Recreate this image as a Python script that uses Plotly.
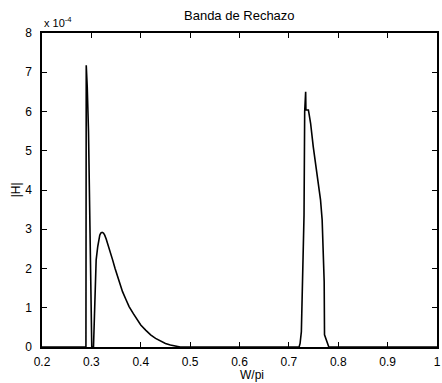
import plotly.graph_objects as go

# Normalised frequency (W/pi) and stop-band magnitude |H| in units of 1e-4
w_norm = [0.200, 0.2890, 0.2896, 0.2916, 0.2942, 0.2956, 0.2976, 0.2996, 0.3008,
          0.3043, 0.3056, 0.3076, 0.3097, 0.3129, 0.3150, 0.3170, 0.3190, 0.3217,
          0.3245, 0.3270, 0.3300, 0.3330, 0.3380, 0.3430, 0.3480, 0.3530, 0.3580,
          0.3631, 0.3700, 0.3764, 0.3850, 0.3931, 0.4000, 0.4099, 0.4200, 0.4300,
          0.4400, 0.4500, 0.4600, 0.4700, 0.4800,
          0.7207, 0.7227, 0.7253, 0.7273, 0.7287, 0.7307, 0.7320, 0.7340,
          0.7345, 0.7395, 0.7407, 0.7440, 0.7494, 0.7574, 0.7641, 0.7674, 0.7708,
          0.7715, 0.7722, 0.7775, 0.7809, 1.000]
h_mag_e4 = [0.00, 0.00, 7.18, 6.63, 5.49, 4.20, 2.98, 1.71, 0.00,
            0.00, 0.69, 1.54, 2.22, 2.56, 2.74, 2.85, 2.90, 2.92,
            2.90, 2.85, 2.75, 2.64, 2.44, 2.22, 2.00, 1.79, 1.60,
            1.41, 1.21, 1.03, 0.85, 0.69, 0.56, 0.43, 0.31, 0.22,
            0.15, 0.09, 0.05, 0.03, 0.00,
            0.00, 0.09, 0.39, 1.25, 2.09, 3.36, 6.00, 6.50,
            6.04, 6.04, 5.95, 5.70, 5.10, 4.42, 3.75, 3.24, 2.26,
            1.66, 0.31, 0.10, 0.00, 0.00]

x_ticks = [0.2, 0.3, 0.4, 0.5, 0.6, 0.7, 0.8, 0.9, 1.0]
x_tick_labels = ["0.2", "0.3", "0.4", "0.5", "0.6", "0.7", "0.8", "0.9", "1"]
y_ticks = [0, 1, 2, 3, 4, 5, 6, 7, 8]
y_tick_labels = ["0", "1", "2", "3", "4", "5", "6", "7", "8"]

FONT = "Liberation Sans, Arial, sans-serif"

fig = go.Figure()
fig.add_trace(go.Scatter(x=w_norm, y=h_mag_e4, mode="lines",
                         line=dict(color="black", width=1.6),
                         showlegend=False, hoverinfo="skip"))

axis_common = dict(showline=True, linecolor="black", linewidth=1.5,
                   mirror="allticks", ticks="inside", ticklen=5,
                   tickcolor="black", tickwidth=1, showgrid=False,
                   zeroline=False, ticklabeloverflow="allow",
                   tickfont=dict(family=FONT, size=12, color="black"))

fig.update_xaxes(range=[0.2, 1.0], tickvals=x_ticks, ticktext=x_tick_labels,
                 ticklabelstandoff=3, **axis_common)
fig.update_yaxes(range=[0, 8], tickvals=y_ticks, ticktext=y_tick_labels,
                 ticklabelstandoff=6, **axis_common)

fig.update_layout(
    width=442, height=383,
    margin=dict(l=42, r=1, t=33, b=36),
    paper_bgcolor="white", plot_bgcolor="white",
    annotations=[
        dict(text="Banda de Rechazo", xref="paper", yref="paper", x=0.5, y=1.057,
             showarrow=False, font=dict(family=FONT, size=13, color="black"),
             xanchor="center", yanchor="middle"),
        dict(text="x 10<sup>-4</sup>", xref="paper", yref="paper", x=0.0, y=1.035,
             showarrow=False, font=dict(family=FONT, size=11, color="black"),
             xanchor="left", yanchor="middle"),
        dict(text="W/pi", xref="paper", yref="paper", x=0.531, y=-0.089,
             showarrow=False, font=dict(family=FONT, size=12, color="black"),
             xanchor="center", yanchor="middle"),
        dict(text="|H|", xref="paper", yref="paper", x=-0.065, y=0.5,
             showarrow=False, textangle=-90,
             font=dict(family=FONT, size=12, color="black"),
             xanchor="center", yanchor="middle"),
    ],
)

fig.write_html("out.html")
